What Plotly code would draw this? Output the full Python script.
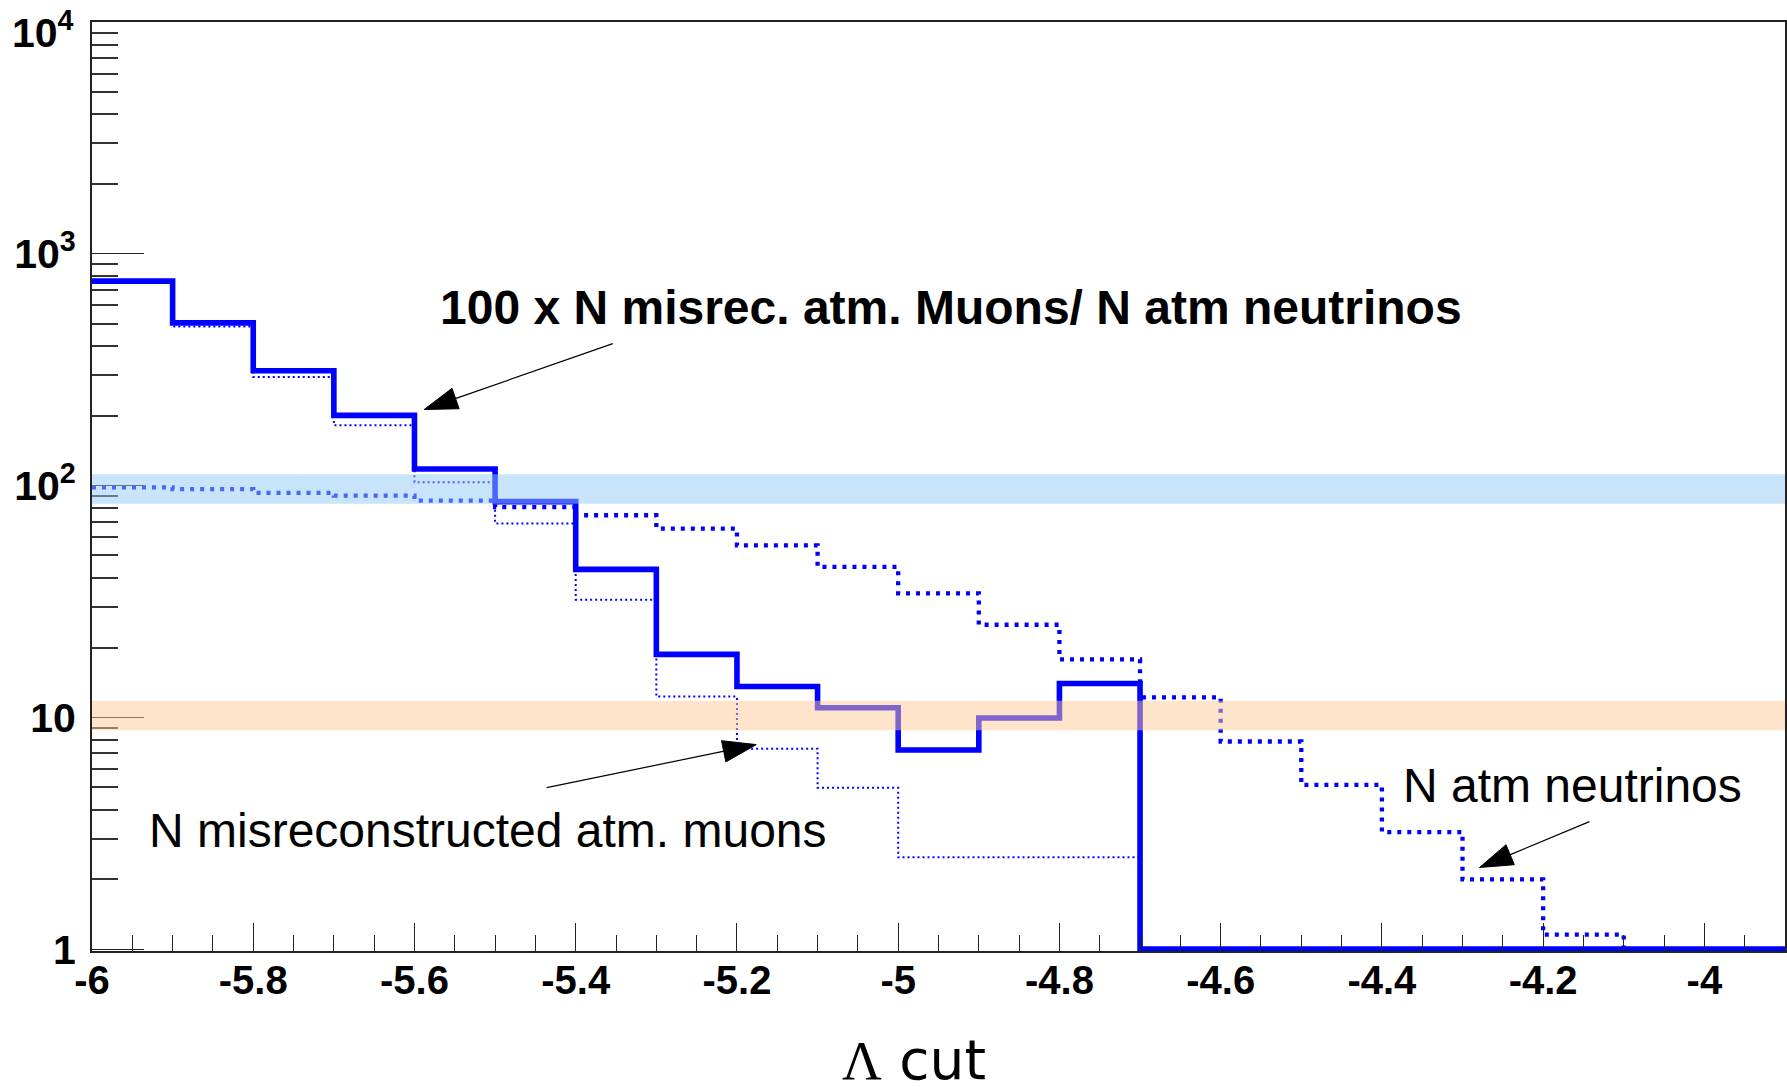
import plotly.graph_objects as go

# ---------------- data ----------------
# bin edges of the Lambda-cut histograms (21 bins of width 0.1)
bin_edges = [-6.0, -5.9, -5.8, -5.7, -5.6, -5.5, -5.4, -5.3, -5.2, -5.1, -5.0,
             -4.9, -4.8, -4.7, -4.6, -4.5, -4.4, -4.3, -4.2, -4.1, -4.0, -3.9]

# 100 x N misrec. atm. muons / N atm neutrinos (thick solid)
ratio_100 = [763, 504, 313, 201, 118, 85.3, 43.5, 18.7, 13.6, 11.0, 7.23,
             9.94, 14.0, 0, 0, 0, 0, 0, 0, 0, 0]
# N atm neutrinos (thick dotted)
n_atm_nu = [98.3, 96.5, 93.1, 90.5, 86.2, 80.8, 74.5, 65.3, 55.2, 44.6, 34.3,
            25.1, 17.8, 12.2, 7.87, 5.11, 3.20, 2.0, 1.156, 0, 0]
# N misreconstructed atm. muons (thin dotted)
n_misrec_mu = [750, 486, 294, 182, 103.5, 68.7, 32.2, 12.3, 7.33, 4.97, 2.49,
               2.49, 2.49, 0, 0, 0, 0, 0, 0, 0, 0]

# reference bands (y ranges)
blue_band = [83.5, 112.0]
orange_band = [8.8, 11.8]

# tick labels (the top one, 10^4, is placed just inside the page like ROOT does)
x_tick_vals = [-6, -5.8, -5.6, -5.4, -5.2, -5, -4.8, -4.6, -4.4, -4.2, -4]
x_tick_text = ["-6", "-5.8", "-5.6", "-5.4", "-5.2", "-5", "-4.8", "-4.6", "-4.4", "-4.2", "-4"]
y_tick_vals = [1, 10, 100, 1000, 10000]
y_tick_text = ["1", "10", "10<sup>2</sup>", "10<sup>3</sup>", ""]
y_top_label = "10<sup>4</sup>"
y_minor_vals = [m * 10 ** d for d in range(4) for m in range(2, 10)]

Y_FLOOR = 1.0  # empty bins are drawn on the axis floor (as ROOT does)


def step(vals):
    ys = [max(v, Y_FLOOR) for v in vals]
    return bin_edges, ys + [ys[-1]]


BLUE = "rgb(0,0,255)"
fig = go.Figure()

x, y = step(n_misrec_mu)
fig.add_trace(go.Scatter(x=x, y=y, mode="lines", line_shape="hv",
                         line=dict(color=BLUE, width=2, dash="2px,3px")))
x, y = step(n_atm_nu)
fig.add_trace(go.Scatter(x=x, y=y, mode="lines", line_shape="hv",
                         line=dict(color=BLUE, width=4.3, dash="4px,6px")))
x, y = step(ratio_100)
fig.add_trace(go.Scatter(x=x, y=y, mode="lines", line_shape="hv",
                         line=dict(color=BLUE, width=5.6)))

# annotation arrows: (tail x, tail y) -> (head x, head y)
arrows = [
    ((-5.354, 410.0), (-5.588, 213.0)),
    ((-5.436, 4.98), (-5.176, 7.63)),
    ((-4.1426, 3.55), (-4.279, 2.25)),
]
for (tx, ty), (hx, hy) in arrows:
    fig.add_trace(go.Scatter(
        x=[tx, hx], y=[ty, hy], mode="lines+markers",
        line=dict(color="black", width=1.2),
        marker=dict(symbol=["circle", "arrow"], size=[0, 35], color="black",
                    opacity=1, angleref="previous",
                    line=dict(width=1, color="black")),
    ))

band_shapes = []
for band, col in ((blue_band, "rgb(145,201,245)"), (orange_band, "rgb(255,202,153)")):
    band_shapes.append(dict(type="rect", xref="paper", yref="y", x0=0, x1=1,
                            y0=band[0], y1=band[1],
                            fillcolor=col, opacity=0.5, line=dict(width=0),
                            layer="above"))

tick_font = dict(family="Liberation Sans", size=41, weight="bold", color="black")
txt_font = dict(family="Liberation Sans", size=48, color="black")
annotations = [
    dict(x=-4.9347, y=2.770, xref="x", yref="y",
         text="100 x N misrec. atm. Muons/ N atm neutrinos", showarrow=False,
         font=dict(txt_font, weight="bold")),
    dict(x=-5.5084, y=0.512, xref="x", yref="y",
         text="N misreconstructed atm. muons", showarrow=False, font=txt_font),
    dict(x=-4.1634, y=0.708, xref="x", yref="y",
         text="N atm neutrinos", showarrow=False, font=txt_font),
    dict(x=0.4854, y=-0.1173, xref="paper", yref="paper", yanchor="middle",
         text="<span style='font-family:Liberation Serif'>Λ</span> cut",
         showarrow=False, font=dict(family="DejaVu Sans", size=55, color="black")),
    dict(x=0, y=1, xref="paper", yref="paper", xanchor="right", yanchor="top",
         xshift=-16, yshift=20, text=y_top_label, showarrow=False, font=tick_font),
]

fig.update_layout(
    width=1787, height=1087,
    margin=dict(l=92, r=2, t=22, b=136),
    paper_bgcolor="white", plot_bgcolor="white",
    showlegend=False,
    shapes=band_shapes,
    annotations=annotations,
    xaxis=dict(range=[-6, -3.9], tickvals=x_tick_vals, ticktext=x_tick_text,
               ticks="inside", ticklen=28, tickwidth=1.3, tickcolor="#222",
               minor=dict(dtick=0.05, tick0=-6, ticks="inside", ticklen=16,
                          tickwidth=1.3, tickcolor="#222", showgrid=False),
               showgrid=False, zeroline=False, showline=True, linecolor="#222",
               linewidth=2, mirror=True, ticklabelstandoff=-7,
               ticklabeloverflow="allow", automargin=False,
               tickfont=dict(family="Liberation Sans", size=40, weight="bold",
                             color="black")),
    yaxis=dict(type="log", range=[-0.008, 4.0005], tickvals=y_tick_vals,
               ticktext=y_tick_text,
               ticks="inside", ticklen=52, tickwidth=1.3, tickcolor="#222",
               minor=dict(tickvals=y_minor_vals, ticks="inside", ticklen=26,
                          tickwidth=1.6, tickcolor="#333", showgrid=False),
               showgrid=False, zeroline=False, showline=True, linecolor="#222",
               linewidth=2, mirror=True, ticklabelstandoff=6,
               ticklabeloverflow="allow", automargin=False,
               tickfont=tick_font),
)

fig.write_html("out.html")
